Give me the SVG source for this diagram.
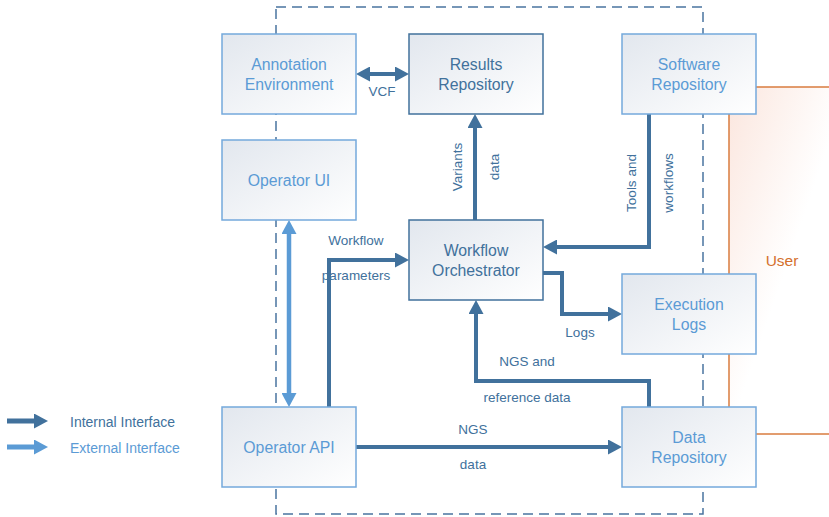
<svg xmlns="http://www.w3.org/2000/svg" width="829" height="517" viewBox="0 0 829 517">
<defs>
<linearGradient id="boxfill" x1="0" y1="0" x2="1" y2="1">
<stop offset="0" stop-color="#e2e7ee"/>
<stop offset="1" stop-color="#ffffff"/>
</linearGradient>
<linearGradient id="userfill" x1="0" y1="0" x2="1" y2="1">
<stop offset="0" stop-color="#fbe6de"/>
<stop offset="0.5" stop-color="#ffffff"/>
</linearGradient>
<marker id="ad" viewBox="0 0 14 15" markerUnits="userSpaceOnUse" markerWidth="14" markerHeight="15" refX="8" refY="7.5" orient="auto-start-reverse">
<path d="M0,0 L14,7.5 L0,15 z" fill="#41719c"/>
</marker>
<marker id="al" viewBox="0 0 14 15" markerUnits="userSpaceOnUse" markerWidth="14" markerHeight="15" refX="8" refY="7.5" orient="auto-start-reverse">
<path d="M0,0 L14,7.5 L0,15 z" fill="#5b9bd5"/>
</marker>
</defs>
<style>
.ext rect{fill:url(#boxfill);stroke:#74a9dc;stroke-width:1.5}
.int rect{fill:url(#boxfill);stroke:#41719c;stroke-width:1.5}
.ext text{fill:#5b9bd5}
.int text{fill:#41719c}
text{font-family:"Liberation Sans",Arial,sans-serif;font-size:15.8px;text-anchor:middle}
.lbl{font-size:13.5px;fill:#41719c}
.cd{fill:none;stroke:#41719c;stroke-width:4;stroke-linejoin:miter}
.cl{fill:none;stroke:#5b9bd5;stroke-width:4.5}
.bnd{fill:none;stroke:#4a74a0;stroke-width:1.5;stroke-dasharray:10 6}
</style>
<rect id="user" x="729" y="87" width="120" height="347" fill="url(#userfill)" stroke="#d97c3f" stroke-width="1.5"/>
<text x="782" y="266" style="fill:#d4702c;font-size:15.5px">User</text>
<rect class="bnd" x="276" y="7" width="427" height="507"/>
<g id="connectors">
<path class="cd" d="M362,74 H403" marker-start="url(#ad)" marker-end="url(#ad)"/>
<path class="cd" d="M475,220 V120" marker-end="url(#ad)"/>
<path class="cd" d="M649,114 V247 H549" marker-end="url(#ad)"/>
<path class="cd" d="M543,273 H562 V314 H616" marker-end="url(#ad)"/>
<path class="cd" d="M649,407 V381 H476 V306" marker-end="url(#ad)"/>
<path class="cd" d="M329,407 V260 H403" marker-end="url(#ad)"/>
<path class="cd" d="M356,447 H616" marker-end="url(#ad)"/>
<path class="cl" d="M289,226 V401" marker-start="url(#al)" marker-end="url(#al)"/>
<text class="lbl" x="382" y="96">VCF</text>
<text class="lbl" transform="translate(457,167) rotate(-90)" x="0" y="5">Variants</text>
<text class="lbl" transform="translate(494,167) rotate(-90)" x="0" y="5">data</text>
<text class="lbl" transform="translate(631,183) rotate(-90)" x="0" y="5">Tools  and</text>
<text class="lbl" transform="translate(668,183) rotate(-90)" x="0" y="5">workflows</text>
<text class="lbl" x="580" y="337">Logs</text>
<text class="lbl" x="527" y="366">NGS and</text>
<text class="lbl" x="527" y="402">reference data</text>
<text class="lbl" x="356" y="245">Workflow</text>
<text class="lbl" x="356" y="280">parameters</text>
<text class="lbl" x="473" y="434">NGS</text>
<text class="lbl" x="473" y="469">data</text>
</g>
<g id="annotation" class="ext"><rect x="222" y="34" width="134" height="80"/><text x="289" y="69.5">Annotation</text><text x="289" y="89.5">Environment</text></g>
<g id="results" class="int"><rect x="409" y="34" width="134" height="80"/><text x="476" y="69.5">Results</text><text x="476" y="89.5">Repository</text></g>
<g id="software" class="ext"><rect x="622" y="34" width="134" height="80"/><text x="689" y="69.5">Software</text><text x="689" y="89.5">Repository</text></g>
<g id="operator-ui" class="ext"><rect x="222" y="140" width="134" height="80"/><text x="289" y="186">Operator UI</text></g>
<g id="orchestrator" class="int"><rect x="409" y="220" width="134" height="80"/><text x="476" y="256">Workflow</text><text x="476" y="276">Orchestrator</text></g>
<g id="exec-logs" class="ext"><rect x="622" y="274" width="134" height="80"/><text x="689" y="310">Execution</text><text x="689" y="330">Logs</text></g>
<g id="operator-api" class="ext"><rect x="222" y="407" width="134" height="80"/><text x="289" y="453">Operator API</text></g>
<g id="data-repo" class="ext"><rect x="622" y="407" width="134" height="80"/><text x="689" y="443">Data</text><text x="689" y="463">Repository</text></g>
<g id="legend">
<path d="M7,421 H42" fill="none" stroke="#41719c" stroke-width="5" marker-end="url(#ad)"/>
<path d="M7,447 H42" fill="none" stroke="#5b9bd5" stroke-width="5" marker-end="url(#al)"/>
<text x="70" y="427" style="text-anchor:start;font-size:14px;fill:#41719c">Internal Interface</text>
<text x="70" y="453" style="text-anchor:start;font-size:14px;fill:#5b9bd5">External Interface</text>
</g>
</svg>
